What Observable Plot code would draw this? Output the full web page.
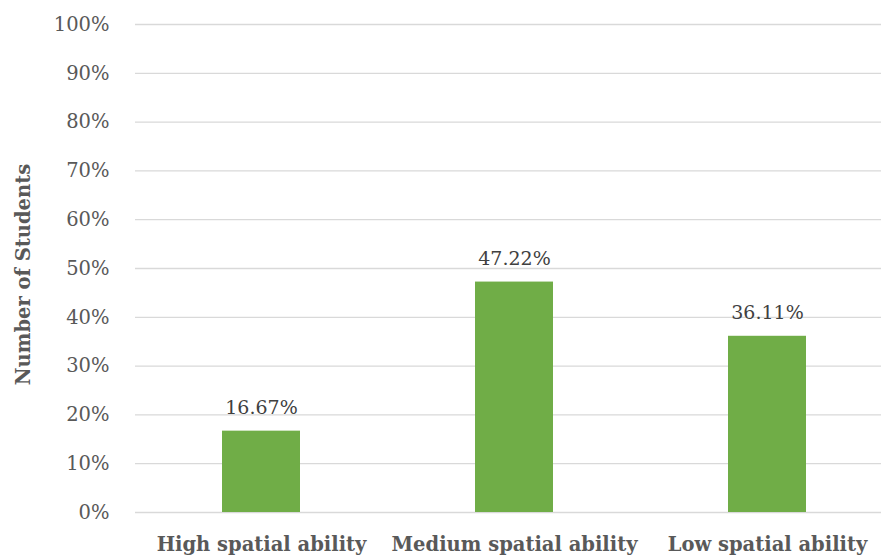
<!DOCTYPE html>
<html>
<head>
<meta charset="utf-8">
<script src="https://cdn.jsdelivr.net/npm/d3@7"></script>
<script src="https://cdn.jsdelivr.net/npm/@observablehq/plot@0.6"></script>
<style>
  html, body { margin: 0; padding: 0; background: #fff; }
  #chart svg { display: block; }
</style>
</head>
<body>
<div id="chart"></div>
<script>
const categories = ["High spatial ability", "Medium spatial ability", "Low spatial ability"];
const values = [0.1667, 0.4722, 0.3611];
const valueLabels = ["16.67%", "47.22%", "36.11%"];
const yTicks = [0, 0.1, 0.2, 0.3, 0.4, 0.5, 0.6, 0.7, 0.8, 0.9, 1.0];
const yTitle = "Number of Students";

const data = categories.map((c, i) => ({category: c, value: values[i], label: valueLabels[i]}));
const serif = "'DejaVu Serif', 'Liberation Serif', serif";

const chart = Plot.plot({
  width: 881,
  height: 557,
  marginLeft: 135,
  marginRight: 0,
  marginTop: 24,
  marginBottom: 45,
  style: {fontFamily: serif, background: "#fff"},
  x: {domain: categories, range: [134, 894.5], paddingInner: 0.69, paddingOuter: 0.345, align: 0.5},
  y: {domain: [0, 1]},
  marks: [
    Plot.ruleY(yTicks, {stroke: "#d9d9d9", strokeWidth: 1.3}),
    Plot.barY(data, {x: "category", y: "value", fill: "#70AD47"}),
    Plot.text(data, {x: "category", y: "value", text: "label", lineAnchor: "bottom", dy: -17, fontSize: 19, fill: "#404040"}),
    Plot.axisY({ticks: yTicks, tickFormat: d3.format(".0%"), tickSize: 0, tickPadding: 26, fontSize: 19.5, fill: "#595959", label: null}),
    Plot.axisX({tickSize: 0, tickPadding: 25, fontSize: 19.5, fontWeight: "bold", fill: "#595959", label: null}),
    Plot.text([yTitle], {frameAnchor: "left", textAnchor: "middle", rotate: -90, dx: -112, dy: 6, fontSize: 19.5, fontWeight: "bold", fill: "#595959"})
  ]
});
document.getElementById("chart").appendChild(chart);
</script>
</body>
</html>
